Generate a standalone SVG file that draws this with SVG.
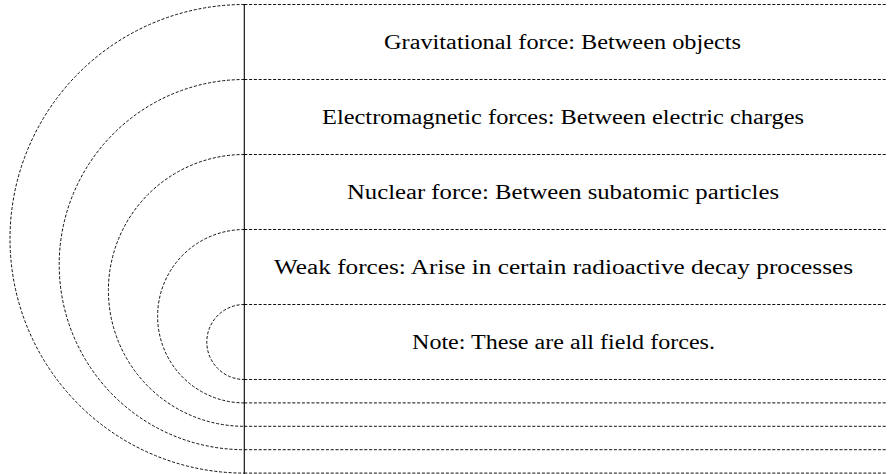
<svg xmlns="http://www.w3.org/2000/svg" width="889" height="474" viewBox="0 0 889 474">
  <style>
    .d { fill: none; stroke: #000; stroke-width: 0.95; stroke-dasharray: 3 1.8; }
    .v { fill: none; stroke: #000; stroke-width: 1.1; }
    .t { font-family: "Liberation Serif", "DejaVu Serif", serif; font-size: 20.5px; fill: #000; text-anchor: middle; }
  </style>
  <rect width="889" height="474" fill="#fff"/>
  <g id="connectors">
    <path class="d" d="M244.3,4.5 A234.3,234.3 0 0 0 244.3,473.1"/>
    <path class="d" d="M244.3,79.5 A185.1,185.1 0 0 0 244.3,449.7"/>
    <path class="d" d="M244.3,154.5 A135.9,135.9 0 0 0 244.3,426.3"/>
    <path class="d" d="M244.3,229.5 A86.7,86.7 0 0 0 244.3,402.9"/>
    <path class="d" d="M244.3,304.5 A37.5,37.5 0 0 0 244.3,379.5"/>
    <line class="d" x1="244.3" y1="4.5" x2="886" y2="4.5"/>
    <line class="d" x1="244.3" y1="79.5" x2="886" y2="79.5"/>
    <line class="d" x1="244.3" y1="154.5" x2="886" y2="154.5"/>
    <line class="d" x1="244.3" y1="229.5" x2="886" y2="229.5"/>
    <line class="d" x1="244.3" y1="304.5" x2="886" y2="304.5"/>
    <line class="d" x1="244.3" y1="379.5" x2="886" y2="379.5"/>
    <line class="d" x1="244.3" y1="402.9" x2="886" y2="402.9"/>
    <line class="d" x1="244.3" y1="426.3" x2="886" y2="426.3"/>
    <line class="d" x1="244.3" y1="449.7" x2="886" y2="449.7"/>
    <line class="d" x1="244.3" y1="473.1" x2="886" y2="473.1"/>
    <line class="v" x1="244.3" y1="4" x2="244.3" y2="474"/>
  </g>
  <g id="gravitational">
    <text class="t" x="562.5" y="49.3" textLength="357" lengthAdjust="spacingAndGlyphs">Gravitational force: Between objects</text>
  </g>
  <g id="electromagnetic">
    <text class="t" x="563" y="124.3" textLength="482" lengthAdjust="spacingAndGlyphs">Electromagnetic forces: Between electric charges</text>
  </g>
  <g id="nuclear">
    <text class="t" x="563" y="199.3" textLength="432" lengthAdjust="spacingAndGlyphs">Nuclear force: Between subatomic particles</text>
  </g>
  <g id="weak">
    <text class="t" x="563.5" y="274.3" textLength="579" lengthAdjust="spacingAndGlyphs">Weak forces: Arise in certain radioactive decay processes</text>
  </g>
  <g id="note">
    <text class="t" x="563.5" y="349.3" textLength="303" lengthAdjust="spacingAndGlyphs">Note: These are all field forces.</text>
  </g>
</svg>
